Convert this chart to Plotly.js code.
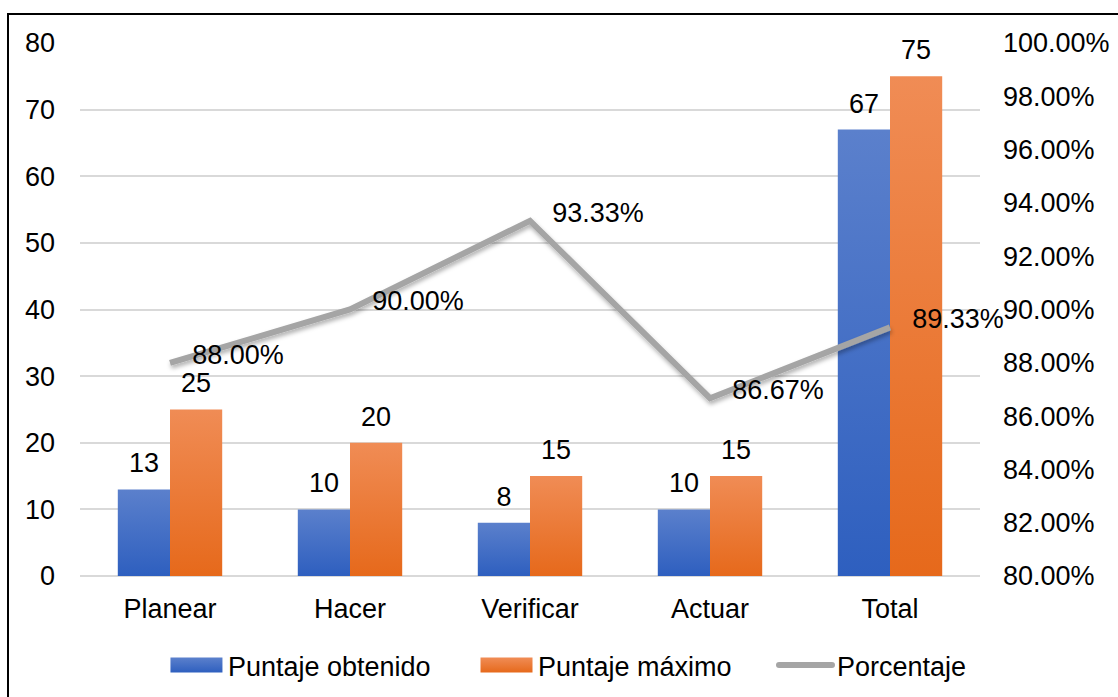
<!DOCTYPE html>
<html>
<head>
<meta charset="utf-8">
<script src="https://cdn.plot.ly/plotly-3.0.1.min.js"></script>
<style>
  html, body { margin: 0; padding: 0; background: #fff; }
  #wrap { position: relative; width: 1118px; height: 697px; overflow: hidden; }
  #chart { width: 1118px; height: 697px; }
  #frame { position: absolute; left: 7px; top: 13px; width: 1200px; height: 800px;
           border-left: 2px solid #000; border-top: 2px solid #000; pointer-events: none; }
</style>
</head>
<body>
<div id="wrap">
  <div id="chart"></div>
  <div id="frame"></div>
</div>
<script>
const categories = ["Planear", "Hacer", "Verificar", "Actuar", "Total"];
const obtenido = [13, 10, 8, 10, 67];
const maximo = [25, 20, 15, 15, 75];
const porcentaje = [0.88, 0.90, 0.9333, 0.8667, 0.8933];
const porcentajeLabels = ["88.00%", "90.00%", "93.33%", "86.67%", "89.33%"];
const seriesNames = ["Puntaje obtenido", "Puntaje máximo", "Porcentaje"];

const FONT = "Liberation Sans, Arial, sans-serif";

const data = [
  {
    type: "bar", name: seriesNames[0], x: categories, y: obtenido,
    marker: { color: "#4470c4" },
    text: obtenido.map(String), textposition: "outside",
    textfont: { family: FONT, size: 27, color: "#000" },
    cliponaxis: false, legend: "legend"
  },
  {
    type: "bar", name: seriesNames[1], x: categories, y: maximo,
    marker: { color: "#ed7d31" },
    text: maximo.map(String), textposition: "outside",
    textfont: { family: FONT, size: 27, color: "#000" },
    cliponaxis: false, legend: "legend2"
  },
  {
    type: "scatter", mode: "lines+markers+text", name: seriesNames[2],
    x: categories, y: porcentaje, yaxis: "y2",
    line: { color: "#a5a5a5", width: 6 },
    marker: { size: 34, color: "rgba(0,0,0,0)" },
    text: porcentajeLabels, textposition: "middle right",
    textfont: { family: FONT, size: 27, color: "#000" },
    cliponaxis: false, legend: "legend3"
  }
];

function legendAt(x) {
  return {
    orientation: "h", x: x, xanchor: "left", y: -0.168, yanchor: "middle",
    font: { family: FONT, size: 27, color: "#000" },
    itemwidth: 53, bgcolor: "rgba(0,0,0,0)"
  };
}

const layout = {
  width: 1118, height: 697,
  margin: { l: 80, r: 138, t: 43, b: 121, autoexpand: false },
  paper_bgcolor: "#fff", plot_bgcolor: "#fff",
  font: { family: FONT, size: 27, color: "#000" },
  barmode: "group", bargap: 0.42, bargroupgap: 0,
  showlegend: true,
  legend: legendAt(0.0944),
  legend2: legendAt(0.4389),
  legend3: legendAt(0.7711),
  xaxis: {
    type: "category", showgrid: false, showline: false, ticks: "",
    tickfont: { family: FONT, size: 27, color: "#000" },
    ticklabelstandoff: 14
  },
  yaxis: {
    range: [0, 80], dtick: 10, tick0: 0,
    gridcolor: "#d9d9d9", gridwidth: 2,
    zeroline: true, zerolinecolor: "#d9d9d9", zerolinewidth: 2,
    showline: false, ticks: "",
    tickfont: { family: FONT, size: 27, color: "#000" },
    ticklabelstandoff: 24
  },
  yaxis2: {
    overlaying: "y", side: "right",
    range: [0.8, 1.0], dtick: 0.02, tick0: 0.8, tickformat: ".2%",
    showgrid: false, zeroline: false, showline: false, ticks: "",
    tickfont: { family: FONT, size: 27, color: "#000" },
    ticklabelstandoff: 22
  }
};

function shiftText(el, dy) {
  if (el.getAttribute("data-shifted")) return;
  const tr = el.getAttribute("transform") || "";
  el.setAttribute("transform", "translate(0," + dy + ") " + tr);
  el.setAttribute("data-shifted", "1");
}

function addGradients(gd) {
  const svg = gd.querySelector("svg.main-svg");
  if (!svg) return;
  const ns = "http://www.w3.org/2000/svg";
  let defs = svg.querySelector("defs");
  if (!defs) { defs = document.createElementNS(ns, "defs"); svg.insertBefore(defs, svg.firstChild); }
  if (!svg.querySelector("#gBlue")) {
    const mk = (id, top, bot) => {
      const g = document.createElementNS(ns, "linearGradient");
      g.setAttribute("id", id); g.setAttribute("x1", "0"); g.setAttribute("y1", "0");
      g.setAttribute("x2", "0"); g.setAttribute("y2", "1");
      [[0, top], [1, bot]].forEach(([o, c]) => {
        const s = document.createElementNS(ns, "stop");
        s.setAttribute("offset", o); s.setAttribute("stop-color", c);
        g.appendChild(s);
      });
      defs.appendChild(g);
    };
    mk("gBlue", "#5b80cc", "#2e5fbf");
    mk("gOrange", "#f08c55", "#e6691b");
    const f = document.createElementNS(ns, "filter");
    f.setAttribute("id", "shadow"); f.setAttribute("x", "-10%"); f.setAttribute("y", "-30%");
    f.setAttribute("width", "130%"); f.setAttribute("height", "160%");
    const ds = document.createElementNS(ns, "feDropShadow");
    ds.setAttribute("dx", "1"); ds.setAttribute("dy", "3"); ds.setAttribute("stdDeviation", "2");
    ds.setAttribute("flood-color", "#000"); ds.setAttribute("flood-opacity", "0.3");
    f.appendChild(ds); defs.appendChild(f);
  }
  const traces = gd.querySelectorAll(".barlayer .trace.bars");
  traces.forEach((t, i) => {
    const id = i === 0 ? "gBlue" : "gOrange";
    t.querySelectorAll(".point path").forEach(p => { p.style.fill = "url(#" + id + ")"; });
    t.querySelectorAll("text.bartext").forEach(tx => shiftText(tx, -8));
  });
  gd.querySelectorAll(".scatterlayer .trace .js-line").forEach(p => {
    p.setAttribute("filter", "url(#shadow)");
  });
  gd.querySelectorAll(".scatterlayer .trace .textpoint text").forEach(tx => shiftText(tx, -6));
  gd.querySelectorAll(".legendpoints path").forEach(p => {
    const fill = (p.style.fill || "") + " " + getComputedStyle(p).fill;
    const isBlue = /68,\s*112,\s*196/.test(fill) || fill.indexOf("gBlue") >= 0;
    const isOrange = /237,\s*125,\s*49/.test(fill) || fill.indexOf("gOrange") >= 0;
    if (isBlue || isOrange) {
      p.setAttribute("d", "M-26,7.5H26V-7.5H-26Z");
      p.style.fill = isBlue ? "url(#gBlue)" : "url(#gOrange)";
      p.style.stroke = "none";
    }
  });
  gd.querySelectorAll(".legendlines path").forEach(p => { p.style.strokeLinecap = "round"; });
}

Plotly.newPlot("chart", data, layout, { staticPlot: true, displayModeBar: false }).then(gd => {
  addGradients(gd);
  gd.on("plotly_afterplot", () => addGradients(gd));
});
</script>
</body>
</html>
